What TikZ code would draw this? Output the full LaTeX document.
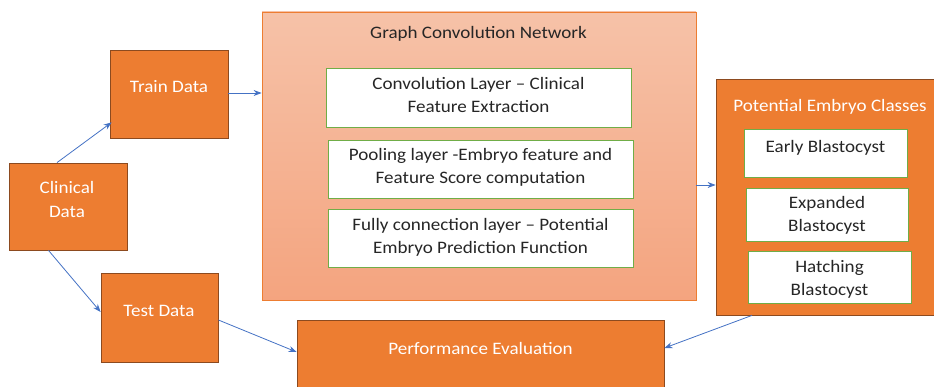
\documentclass[tikz,border=0pt]{standalone}
\usepackage{fontspec}
\setmainfont[FakeStretch=1.09]{Carlito}
\usetikzlibrary{arrows.meta,calc}

\definecolor{boxorange}{HTML}{ED7D31}
\definecolor{boxedge}{HTML}{8C4A1F}
\definecolor{gcntop}{HTML}{F6C2A8}
\definecolor{gcnbottom}{HTML}{F4A47F}
\definecolor{layeredge}{HTML}{70AD47}
\definecolor{flowblue}{HTML}{4472C4}
\definecolor{darktext}{HTML}{262626}

% multi-line labels are anchored at the baseline of their last line
\tikzset{
  stagebox/.style={draw=boxedge, line width=0.8pt, fill=boxorange, inner sep=0pt},
  layerbox/.style={draw=layeredge, line width=0.9pt, fill=white, inner sep=0pt},
  whitetxt/.style={text=white, anchor=base, align=center, inner sep=0pt,
    font=\fontsize{17.5}{24}\selectfont},
  darktxt/.style={text=darktext, anchor=base, align=center, inner sep=0pt,
    font=\fontsize{17.5}{23}\selectfont},
  flow/.style={draw=flowblue, line width=0.8pt, -{Stealth[length=8pt,width=6pt]}}
}

\begin{document}
\begin{tikzpicture}[x=1pt,y=-1pt]
\useasboundingbox (0,0) rectangle (934,387);
\clip (0,0) rectangle (934,387);

% input data boxes
\node[stagebox, minimum width=118pt, minimum height=87pt] (clinical) at (68,206.5) {};
\node[stagebox, minimum width=118pt, minimum height=88pt] (train) at (169,94) {};
\node[stagebox, minimum width=117pt, minimum height=89pt] (test) at (159.5,317.5) {};
\node[whitetxt] (clinicalT) at (67,217.7) {Clinical\\Data};
\node[whitetxt] (trainT) at (169,92.7) {Train Data};
\node[whitetxt] (testT) at (159,316.7) {Test Data};

% graph convolution network block
\node[draw=boxorange, line width=0.8pt, top color=gcntop, bottom color=gcnbottom,
      minimum width=434pt, minimum height=288pt, inner sep=0pt] (gcn) at (479,156) {};
\node[darktxt] (gcnT) at (478.5,38.7) {Graph Convolution Network};
\node[layerbox, minimum width=305pt, minimum height=59pt] (conv) at (478.5,97.5) {};
\node[layerbox, minimum width=305pt, minimum height=58pt] (pool) at (480.5,169) {};
\node[layerbox, minimum width=305pt, minimum height=58pt] (full) at (480.5,238) {};
\node[darktxt] (convT) at (478.5,112.7) {Convolution Layer -- Clinical\\Feature Extraction};
\node[darktxt] (poolT) at (480.5,183.7) {Pooling layer -Embryo feature and\\Feature Score computation};
\node[darktxt] (fullT) at (480.5,253.7) {Fully connection layer -- Potential\\Embryo Prediction Function};

% embryo class block
\node[stagebox, minimum width=228pt, minimum height=236pt] (pec) at (830,197) {};
\node[whitetxt] (pecT) at (830,111.7) {Potential Embryo Classes};
\node[layerbox, minimum width=163pt, minimum height=48pt] (early) at (825.5,153) {};
\node[layerbox, minimum width=162pt, minimum height=53pt] (expanded) at (827,214.5) {};
\node[layerbox, minimum width=163pt, minimum height=52pt] (hatching) at (829.5,277) {};
\node[darktxt] (earlyT) at (825.5,152.7) {Early Blastocyst};
\node[darktxt] (expandedT) at (827,231.7) {Expanded\\Blastocyst};
\node[darktxt] (hatchingT) at (829.5,295.7) {Hatching\\Blastocyst};

% evaluation box
\node[stagebox, minimum width=367pt, minimum height=72pt] (perf) at (480.5,356) {};
\node[whitetxt] (perfT) at (480.5,354.7) {Performance Evaluation};

% connectors
\draw[flow] ($(clinical.north)+(-11,0)$) -- ($(train.south west)+(2,-16)$);
\draw[flow] ($(clinical.south)+(-19.5,0)$) -- ($(test.west)+(0,-5.5)$);
\draw[flow] (train.east |- 0,93) -- (gcn.west |- 0,93);
\draw[flow] ($(gcn.east)+(0,29)$) -- (pec.west |- 0,185);
\draw[flow] ($(test.east)+(0,2.5)$) -- ($(perf.west)+(0,-4)$);
\draw[flow] ($(pec.south)+(-78,0)$) -- ($(perf.east)+(0,-8)$);
\end{tikzpicture}
\end{document}
